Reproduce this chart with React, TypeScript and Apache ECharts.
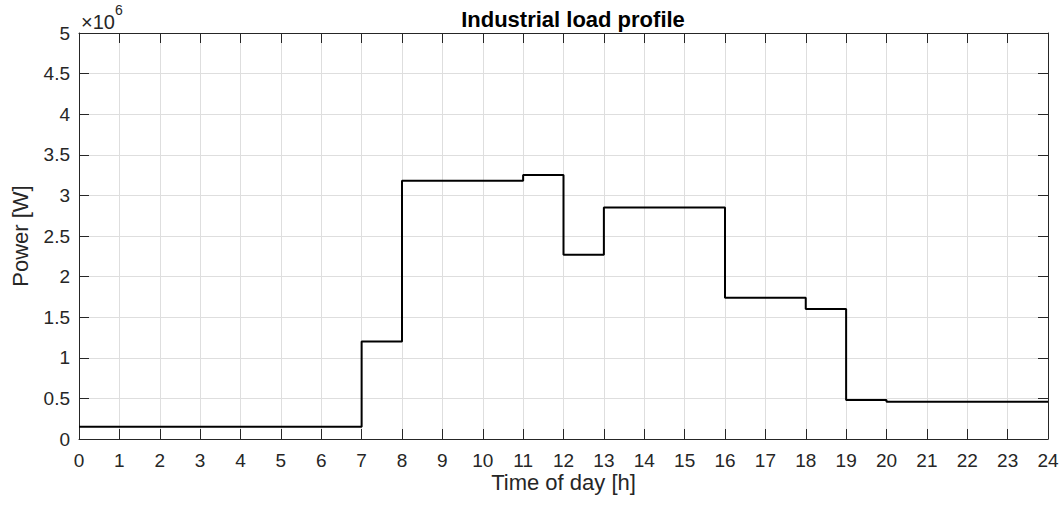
import React, { useEffect, useRef } from "react";
import * as echarts from "echarts";

const hours = [0, 7, 8, 11, 12, 13, 16, 18, 19, 20, 24];
const powerW = [0.15e6, 1.2e6, 3.18e6, 3.25e6, 2.27e6, 2.85e6, 1.74e6, 1.6e6, 0.48e6, 0.46e6, 0.46e6];
const yTicksMillions = [0, 0.5, 1, 1.5, 2, 2.5, 3, 3.5, 4, 4.5, 5];

const FONT = "Liberation Sans, Arial, Helvetica, sans-serif";
const TXT = "#262626";
const GRIDC = "#dedede";

export default function App() {
  const ref = useRef<HTMLDivElement>(null);
  useEffect(() => {
    if (!ref.current) return;
    const chart = echarts.init(ref.current, undefined, { renderer: "svg" });
    const data = hours.map((h, i) => [h, powerW[i]]);
    const tick = (c: string) => ({ show: true, inside: false, length: -10, lineStyle: { color: c } });
    chart.setOption({
      animation: false,
      backgroundColor: "#ffffff",
      textStyle: { fontFamily: FONT },
      title: {
        text: "Industrial load profile",
        left: 568,
        textAlign: "center",
        top: 3,
        textStyle: { fontFamily: FONT, fontSize: 22, fontWeight: "bold", color: "#000" },
      },
      grid: { left: 79, right: 15, top: 33, bottom: 71, containLabel: false },
      xAxis: [
        {
          type: "value",
          min: 0,
          max: 24,
          interval: 1,
          name: "Time of day [h]",
          nameLocation: "middle",
          nameGap: 32,
          nameMoveOverlap: false,
          nameTextStyle: { fontFamily: FONT, fontSize: 22, color: TXT },
          axisLine: { show: true, onZero: false, lineStyle: { color: TXT, width: 1 } },
          axisTick: tick(TXT),
          axisLabel: { fontFamily: FONT, fontSize: 19, color: TXT, margin: 12 },
          splitLine: { show: true, lineStyle: { color: GRIDC, width: 1 } },
        },
        {
          type: "value",
          position: "top",
          min: 0,
          max: 24,
          interval: 1,
          axisLine: { show: true, onZero: false, lineStyle: { color: TXT, width: 1 } },
          axisTick: tick(TXT),
          axisLabel: { show: false },
          splitLine: { show: false },
        },
      ],
      yAxis: [
        {
          type: "value",
          min: 0,
          max: 5e6,
          interval: 0.5e6,
          name: "Power [W]",
          nameLocation: "middle",
          nameGap: 48,
          nameTextStyle: { fontFamily: FONT, fontSize: 22, color: TXT },
          axisLine: { show: true, onZero: false, lineStyle: { color: TXT, width: 1 } },
          axisTick: tick(TXT),
          axisLabel: {
            fontFamily: FONT,
            fontSize: 19,
            color: TXT,
            margin: 9,
            padding: [4, 0, 0, 0],
            formatter: (v: number) => {
              const m = Math.round(v / 1e5) / 10;
              return yTicksMillions.includes(m) ? String(m) : "";
            },
          },
          splitLine: { show: true, lineStyle: { color: GRIDC, width: 1 } },
        },
        {
          type: "value",
          position: "right",
          min: 0,
          max: 5e6,
          interval: 0.5e6,
          axisLine: { show: true, onZero: false, lineStyle: { color: TXT, width: 1 } },
          axisTick: tick(TXT),
          axisLabel: { show: false },
          splitLine: { show: false },
        },
      ],
      graphic: [
        {
          type: "text",
          left: 81,
          top: 3,
          style: {
            text: "{a|×10}{b|6}",
            rich: {
              a: { fontFamily: FONT, fontSize: 20, fill: TXT, padding: [9, 0, 0, 0] },
              b: { fontFamily: FONT, fontSize: 14, fill: TXT, verticalAlign: "top", padding: [0, 0, 10, 0] },
            },
          },
        },
      ],
      series: [
        {
          type: "line",
          step: "end",
          data,
          showSymbol: false,
          symbol: "none",
          lineStyle: { color: "#000", width: 2 },
          xAxisIndex: 0,
          yAxisIndex: 0,
        },
      ],
    });
    return () => chart.dispose();
  }, []);
  return (
    <div
      ref={ref}
      style={{ position: "fixed", left: 0, top: 0, width: 1063, height: 510, background: "#fff" }}
    />
  );
}
